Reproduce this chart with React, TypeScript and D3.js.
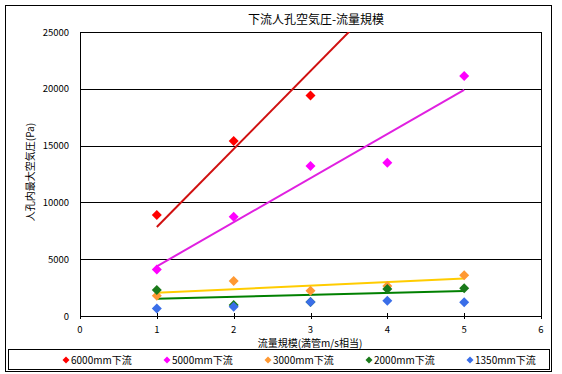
import React from 'react'
import * as d3 from 'd3'

// flow scale (m/s, full pipe equivalent)
const flows = [1, 2, 3, 4, 5]

// max air pressure in manhole (Pa)
// 6000mm values at 4 and 5 are above the axis range (clipped in the original)
const p6000 = [8900, 15400, 19400, 26400, 37750]
const p5000 = [4100, 8740, 13200, 13500, 21130]
const p3000 = [1790, 3080, 2230, 2640, 3580]
const p2000 = [2290, 970, 1230, 2380, 2440]
const p1350 = [670, 820, 1230, 1350, 1200]

const xTicks = [0, 1, 2, 3, 4, 5, 6]
const yTicks = [0, 5000, 10000, 15000, 20000, 25000]

const SERIES = [
  { name: '6000mm下流', values: p6000, color: '#ff0000', trend: '#d01010' },
  { name: '5000mm下流', values: p5000, color: '#ff00ff', trend: '#e020e0' },
  { name: '3000mm下流', values: p3000, color: '#ff9933', trend: '#ffcc00' },
  { name: '2000mm下流', values: p2000, color: '#1a7a1a', trend: '#008000' },
  { name: '1350mm下流', values: p1350, color: '#3a6ee8', trend: null as string | null }
]

const FONT = '"Noto Sans CJK JP", "DejaVu Sans", sans-serif'

const W = 562
const H = 374
const margin = { left: 80, top: 32, right: 541, bottom: 316 }

function fit(xs: number[], ys: number[]) {
  const mx = d3.mean(xs) as number
  const my = d3.mean(ys) as number
  let num = 0
  let den = 0
  xs.forEach((x, i) => {
    num += (x - mx) * (ys[i] - my)
    den += (x - mx) * (x - mx)
  })
  const slope = num / den
  return (x: number) => my + slope * (x - mx)
}

const diamond = (cx: number, cy: number, r: number) =>
  `M${cx},${cy - r}L${cx + r},${cy}L${cx},${cy + r}L${cx - r},${cy}Z`

export default function App() {
  const x = d3.scaleLinear().domain([0, 6]).range([margin.left, margin.right])
  const y = d3.scaleLinear().domain([0, 25000]).range([margin.bottom, margin.top])
  const line = d3.line<[number, number]>().x(d => x(d[0])).y(d => y(d[1]))

  return (
    <svg width={W} height={H} style={{ position: 'absolute', left: 0, top: 0 }}>
      <rect x={0} y={0} width={W} height={H} fill="#fff" />
      <rect x={5.5} y={5.5} width={546} height={366} fill="#fff" stroke="#000" strokeWidth={1} />
      <defs>
        <clipPath id="plot">
          <rect x={margin.left} y={margin.top} width={margin.right - margin.left} height={margin.bottom - margin.top} />
        </clipPath>
      </defs>

      <text x={316} y={24} textAnchor="middle" fontFamily={FONT} fontSize={12}>下流人孔空気圧-流量規模</text>

      {/* gridlines */}
      {yTicks.map(t => (
        <line key={t} x1={margin.left} x2={margin.right} y1={Math.round(y(t)) + 0.5} y2={Math.round(y(t)) + 0.5} stroke="#000" strokeWidth={1} />
      ))}
      <rect x={margin.left + 0.5} y={margin.top + 0.5} width={margin.right - margin.left} height={margin.bottom - margin.top} fill="none" stroke="#000" strokeWidth={1} />

      {/* axes labels */}
      {yTicks.map(t => (
        <text key={t} x={69} y={y(t) + 3.5} textAnchor="end" fontFamily={FONT} fontSize={9.5}>{t}</text>
      ))}
      {xTicks.map(t => (
        <g key={t}>
          <line x1={Math.round(x(t)) + 0.5} x2={Math.round(x(t)) + 0.5} y1={margin.bottom - 3} y2={margin.bottom + 3} stroke="#000" />
          <text x={x(t)} y={333} textAnchor="middle" fontFamily={FONT} fontSize={9.5}>{t}</text>
        </g>
      ))}
      <text x={310} y={347} textAnchor="middle" fontFamily={FONT} fontSize={10}>流量規模(満管m/s相当)</text>
      <text transform={`translate(34,172) rotate(-90)`} textAnchor="middle" fontFamily={FONT} fontSize={10}>人孔内最大空気圧(Pa)</text>

      {/* trend lines */}
      <g clipPath="url(#plot)">
        {SERIES.filter(s => s.trend).map(s => {
          const f = fit(flows, s.values)
          const ext = d3.extent(flows) as [number, number]
          return (
            <path key={s.name} d={line([[ext[0], f(ext[0])], [ext[1], f(ext[1])]]) as string}
              stroke={s.trend as string} strokeWidth={2} fill="none" />
          )
        })}
        {SERIES.map(s => (
          <g key={s.name}>
            {flows.map((fx, i) => (
              <path key={i} d={diamond(x(fx), y(s.values[i]), 5)} fill={s.color} />
            ))}
          </g>
        ))}
      </g>

      {/* legend */}
      <rect x={8.5} y={349.5} width={541} height={20} fill="#fff" stroke="#000" strokeWidth={1} />
      {SERIES.map((s, i) => {
        const lx = 66 + i * 101
        return (
          <g key={s.name}>
            <path d={diamond(lx, 360, 3.5)} fill={s.color} />
            <text x={lx + 5} y={363.5} fontFamily={FONT} fontSize={10}>{s.name}</text>
          </g>
        )
      })}
    </svg>
  )
}
